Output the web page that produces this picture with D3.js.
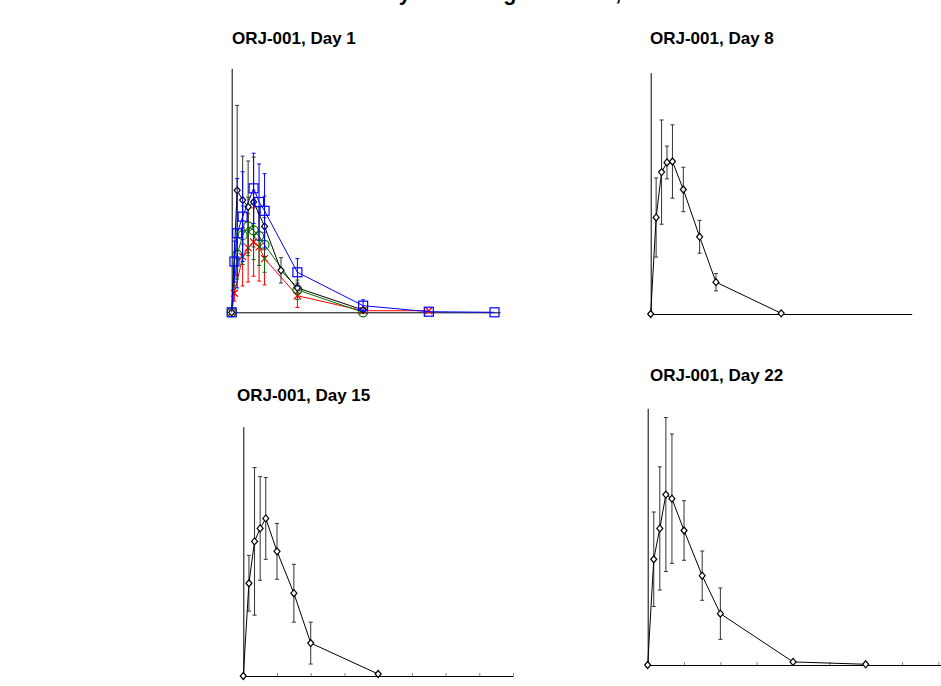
<!DOCTYPE html>
<html lang="en">
<head>
<meta charset="UTF-8">
<title>ORJ-001 concentration profiles</title>
<script src="https://cdn.jsdelivr.net/npm/d3@7"></script>
<style>
    body{ margin:0; background:#fff; }
    svg text{ font-family: Arial, "Liberation Sans", sans-serif; font-weight:bold; fill:#000; }
</style>
</head>
<body>
<svg id="fig" width="941" height="686"></svg>
<script>
    // sampling times (h)
    let timesStd = [0, 0.5, 1, 1.5, 2, 3, 4.5, 6, 12];
    let timesD22 = [0, 0.5, 1, 1.5, 2, 3, 4.5, 6, 12, 18];
    let timesBlue = [0, 0.25, 0.5, 1, 2, 2.5, 3, 6, 12, 18, 24];
    let timesGreen = [0, 0.5, 1, 1.5, 2, 2.5, 3, 6, 12];
    let timesRed = [0, 0.25, 1, 1.5, 2, 2.5, 3, 6, 12, 18];

    // Day 1 means / SD
    let d1Black = [0, 125, 115, 108, 113, 88, 43, 25, 2.4];
    let d1BlackSd = [0, 87, 45, 47, 46, 31, 13, 5, 1];
    let d1Blue = [0, 52, 81, 98, 127, 113, 104, 41, 6.8, 0.6, 0];
    let d1BlueSd = [0, 21, 56, 46, 36, 39, 38, 14, 6, 0, 0];
    let d1Green = [0, 59, 79, 88, 84, 78, 69, 23, 0];
    let d1GreenSd = [0, 25, 30, 30, 30, 30, 28, 10, 1];
    let d1Red = [0, 19.5, 57, 66, 72, 67, 55, 17, 1.6, 1.6];
    let d1RedSd = [0, 8, 30, 35, 35, 35, 27, 12, 1, 0];

    // Day 8, 15, 22
    let d8Mean = [0, 100, 147, 157, 158, 129, 80, 33, 0.7];
    let d8Sd = [0, 41, 54, 17, 38, 23, 17, 9, 0];
    let d15Mean = [0, 93, 135, 148, 158, 125, 83, 33, 2];
    let d15Sd = [0, 28, 74, 52, 41, 28, 29, 21, 0];
    let d22Mean = [0, 103, 133, 166, 162, 131, 87, 50, 3, 0.7];
    let d22Sd = [0, 46, 60, 75, 63, 29, 24, 25, 0, 0];

    let panelTitles = ["ORJ-001, Day 1", "ORJ-001, Day 8", "ORJ-001, Day 15", "ORJ-001, Day 22"];
    let figTitle = "Mean Concentration by Dose Regimen Arm, Linear Scale";

    const svg = d3.select("#fig");

    // main title, sits above the top edge (only descenders show)
    svg.append("text")
        .attr("x", 172).attr("y", 0)
        .style("font-size", "21.6px")
        .text(figTitle);

    function series(t, m, sd, color, marker){
        let pts = t.map((d, i) => ({t: d, m: m[i], sd: sd[i]}));
        return {pts: pts, color: color, marker: marker};
    }

    let panels = [
        {title: panelTitles[0], tx: 232, ty: 44, x0: 231.7, x1: 500, xMax: 24.5, yb: 312.3, yt: 68.3, ticks: false,
         series: [series(timesRed, d1Red, d1RedSd, "#ff0000", "x"),
                  series(timesGreen, d1Green, d1GreenSd, "#007000", "circle"),
                  series(timesStd, d1Black, d1BlackSd, "#000", "diamond"),
                  series(timesBlue, d1Blue, d1BlueSd, "#0000ff", "square")]},
        {title: panelTitles[1], tx: 650, ty: 44, x0: 650.7, x1: 911.7, xMax: 24, yb: 314, yt: 72.7, ticks: false,
         series: [series(timesStd, d8Mean, d8Sd, "#000", "diamond")]},
        {title: panelTitles[2], tx: 237, ty: 401, x0: 243.3, x1: 513, xMax: 24, yb: 676, yt: 426.7, ticks: true,
         series: [series(timesStd, d15Mean, d15Sd, "#000", "diamond")]},
        {title: panelTitles[3], tx: 650, ty: 381, x0: 647.7, x1: 942, xMax: 24.3, yb: 665, yt: 408.3, ticks: true,
         series: [series(timesD22, d22Mean, d22Sd, "#000", "diamond")]}
    ];

    function drawMarker(g, kind, color){
        if (kind === "diamond") {
            g.append("path").attr("d", "M0,-3.5L3,0L0,3.5L-3,0Z")
                .attr("fill", "#fff").attr("stroke", color).attr("stroke-width", 1.2);
        } else if (kind === "square") {
            g.append("rect").attr("x", -4.5).attr("y", -4.5).attr("width", 9).attr("height", 9)
                .attr("fill", "none").attr("stroke", color).attr("stroke-width", 1.2);
        } else if (kind === "circle") {
            g.append("circle").attr("r", 4.5)
                .attr("fill", "none").attr("stroke", color).attr("stroke-width", 1.2);
        } else {
            g.append("path").attr("d", "M-3.5,-3.5L3.5,3.5M3.5,-3.5L-3.5,3.5")
                .attr("stroke", color).attr("stroke-width", 1.2);
        }
    }

    panels.forEach(function (p){
        let x = d3.scaleLinear().domain([0, p.xMax]).range([p.x0, p.x1]);
        let y = d3.scaleLinear().domain([0, 250]).range([p.yb, p.yt]);
        let g = svg.append("g");

        g.append("text").attr("x", p.tx).attr("y", p.ty)
            .style("font-size", "17px").text(p.title);

        // axes: plain lines, no labels
        let xAxis = d3.axisBottom(x).tickValues(p.ticks ? d3.range(0, 25, 3) : [])
            .tickFormat("").tickSize(3).tickSizeOuter(0);
        g.append("g").attr("transform", `translate(0,${p.yb})`).call(xAxis)
            .call(a => a.selectAll(".tick line").attr("stroke", "#888").attr("transform", "translate(0,-3)"))
            .call(a => a.select(".domain").attr("stroke", "#000"));
        let yAxis = d3.axisLeft(y).tickValues([]).tickSizeOuter(0);
        g.append("g").attr("transform", `translate(${p.x0},0)`).call(yAxis)
            .call(a => a.select(".domain").attr("stroke", "#000"));

        p.series.forEach(function (s){
            let line = d3.line().x(d => x(d.t)).y(d => y(d.m));
            // error bars
            let eb = g.append("g").attr("stroke", s.color === "#000" ? "#333" : s.color).attr("stroke-width", 1);
            s.pts.filter(d => d.sd > 0).forEach(function (d){
                let cx = x(d.t), top = y(d.m + d.sd), bot = y(Math.max(0, d.m - d.sd));
                eb.append("line").attr("x1", cx).attr("x2", cx).attr("y1", top).attr("y2", bot);
                eb.append("line").attr("x1", cx - 2).attr("x2", cx + 2).attr("y1", top).attr("y2", top);
                eb.append("line").attr("x1", cx - 2).attr("x2", cx + 2).attr("y1", bot).attr("y2", bot);
            });
            g.append("path").datum(s.pts).attr("d", line)
                .attr("fill", "none").attr("stroke", s.color).attr("stroke-width", 1);
            s.pts.forEach(function (d){
                let m = g.append("g").attr("transform", `translate(${x(d.t)},${y(d.m)})`);
                drawMarker(m, s.marker, s.color);
            });
        });
    });
</script>
</body>
</html>
